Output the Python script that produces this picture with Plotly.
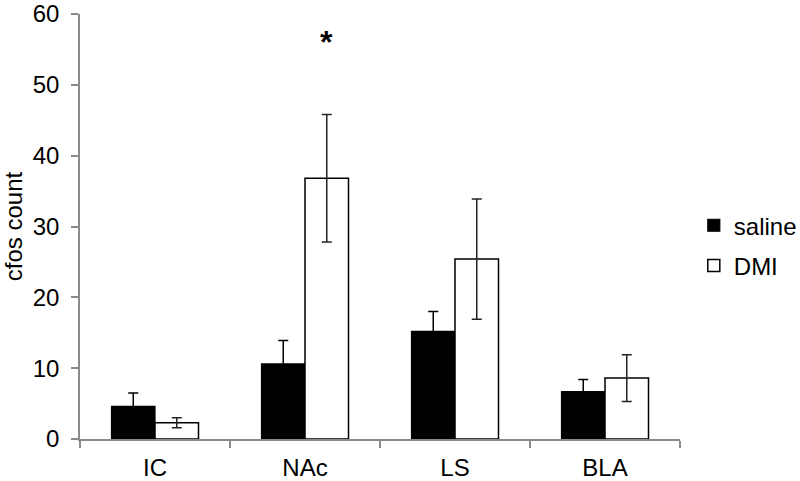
import plotly.graph_objects as go

categories = ["IC", "NAc", "LS", "BLA"]
saline = [4.6, 10.6, 15.2, 6.7]
saline_err = [1.9, 3.3, 2.8, 1.7]
dmi = [2.3, 36.8, 25.4, 8.6]
dmi_err = [0.7, 9.0, 8.5, 3.3]
y_ticks = [0, 10, 20, 30, 40, 50, 60]

FONT = "Liberation Sans, Arial, sans-serif"
axis_color = "#8a8a8a"

fig = go.Figure()
fig.add_trace(go.Bar(
    x=categories, y=saline, name="saline", legendgroup="a",
    marker=dict(color="black", line=dict(color="black", width=1.2)),
    error_y=dict(type="data", array=saline_err, color="black", thickness=1.5, width=5),
))
fig.add_trace(go.Bar(
    x=categories, y=dmi, name="DMI", legendgroup="b",
    marker=dict(color="white", line=dict(color="black", width=1.5)),
    error_y=dict(type="data", array=dmi_err, color="#222222", thickness=1.5, width=5),
))

fig.add_annotation(x="NAc", y=56.0, text="<b>*</b>", showarrow=False, xshift=21,
                   font=dict(size=32, family=FONT, color="black"))

fig.update_layout(
    width=800, height=481,
    margin=dict(l=80, r=120, t=14, b=42, autoexpand=False),
    paper_bgcolor="white", plot_bgcolor="white",
    barmode="group", bargap=0.42, bargroupgap=0,
    font=dict(family=FONT, size=24, color="black"),
    showlegend=True,
    legend=dict(x=1.023, y=0.455, xanchor="left", yanchor="middle",
                font=dict(size=24), tracegroupgap=6, traceorder="grouped",
                itemwidth=30, bgcolor="rgba(0,0,0,0)"),
    xaxis=dict(showline=True, linecolor=axis_color, linewidth=1.5,
               ticks="outside", tickson="boundaries", tickcolor=axis_color,
               ticklen=7, tickwidth=1.5, showgrid=False, zeroline=False,
               tickfont=dict(size=24), ticklabelstandoff=6, automargin=False),
    yaxis=dict(range=[0, 60], tickvals=y_ticks, showline=True, linecolor=axis_color,
               linewidth=1.5, ticks="outside", tickcolor=axis_color, ticklen=7,
               tickwidth=1.5, showgrid=False, zeroline=False,
               title=dict(text="cfos count", font=dict(size=24), standoff=4),
               tickfont=dict(size=24), ticklabelstandoff=7, automargin=False,
               ticklabeloverflow="allow"),
)

fig.write_html("out.html", config={"displayModeBar": False},
               post_script="document.body.style.margin='0';")
